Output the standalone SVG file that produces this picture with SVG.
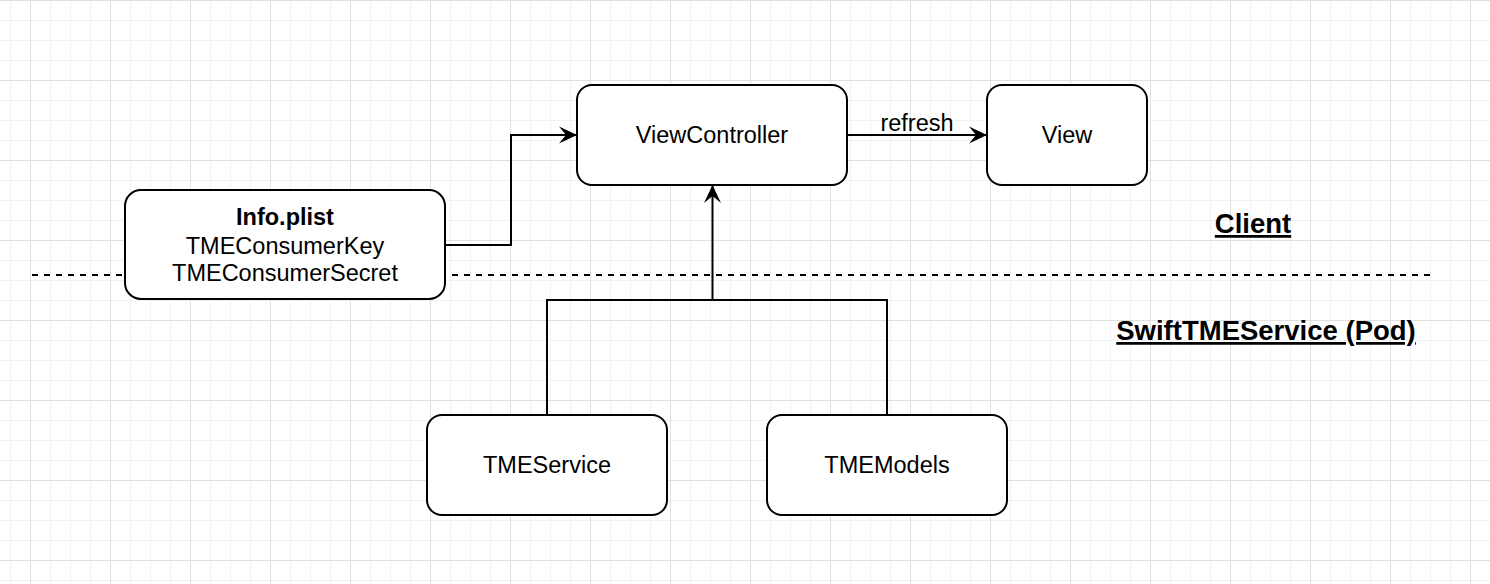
<svg xmlns="http://www.w3.org/2000/svg" width="1490" height="584" viewBox="0 0 1490 584">
  <defs>
    <pattern id="minor" x="10" y="0" width="20" height="20" patternUnits="userSpaceOnUse">
      <path d="M0.5 0V20M0 0.5H20" stroke="#f2f2f2" stroke-width="1" fill="none"/>
    </pattern>
    <pattern id="major" x="30" y="0" width="80" height="80" patternUnits="userSpaceOnUse">
      <path d="M0.5 0V80M0 0.5H80" stroke="#e0e0e0" stroke-width="1" fill="none"/>
    </pattern>
    <marker id="arrow" viewBox="0 0 18 18" refX="18" refY="9" markerWidth="18" markerHeight="18" markerUnits="userSpaceOnUse" orient="auto">
      <path d="M0 0.5L18 9L0 17.5L7 9Z" fill="#000"/>
    </marker>
    <style>
      .node rect { fill: #ffffff; stroke: #000000; stroke-width: 2; }
      .node text, .label { font-family: "Liberation Sans", Arial, Helvetica, sans-serif; font-size: 23.5px; fill: #000; text-anchor: middle; }
      .edge { fill: none; stroke: #000; stroke-width: 2; }
      .title { font-family: "Liberation Sans", Arial, Helvetica, sans-serif; font-size: 27.5px; font-weight: bold; text-decoration: underline; fill: #000; text-anchor: middle; }
    </style>
  </defs>
  <rect width="1490" height="584" fill="#ffffff"/>
  <rect width="1490" height="584" fill="url(#minor)"/>
  <rect width="1490" height="584" fill="url(#major)"/>

  <line x1="32" y1="275" x2="1432" y2="275" stroke="#000" stroke-width="2" stroke-dasharray="6 6"/>

  <text class="title" x="1253" y="233">Client</text>
  <text class="title" x="1266" y="340">SwiftTMEService (Pod)</text>

  <g id="connectors">
    <path class="edge" d="M445 245H511V135H577" marker-end="url(#arrow)"/>
    <path class="edge" d="M847 135H987" marker-end="url(#arrow)"/>
    <text class="label" x="917" y="131">refresh</text>
    <path class="edge" d="M547 415V300H887V415"/>
    <path class="edge" d="M712.5 300V185" marker-end="url(#arrow)"/>
  </g>

  <g id="viewcontroller" class="node">
    <rect x="577" y="85" width="270" height="100" rx="15" ry="15"/>
    <text x="712" y="143">ViewController</text>
  </g>
  <g id="view" class="node">
    <rect x="987" y="85" width="160" height="100" rx="15" ry="15"/>
    <text x="1067" y="143">View</text>
  </g>
  <g id="infoplist" class="node">
    <rect x="125" y="190" width="320" height="109" rx="16" ry="16"/>
    <text x="285" y="225" font-weight="bold">Info.plist</text>
    <text x="285" y="254">TMEConsumerKey</text>
    <text x="285" y="281">TMEConsumerSecret</text>
  </g>
  <g id="tmeservice" class="node">
    <rect x="427" y="415" width="240" height="100" rx="15" ry="15"/>
    <text x="547" y="473">TMEService</text>
  </g>
  <g id="tmemodels" class="node">
    <rect x="767" y="415" width="240" height="100" rx="15" ry="15"/>
    <text x="887" y="473">TMEModels</text>
  </g>
</svg>
